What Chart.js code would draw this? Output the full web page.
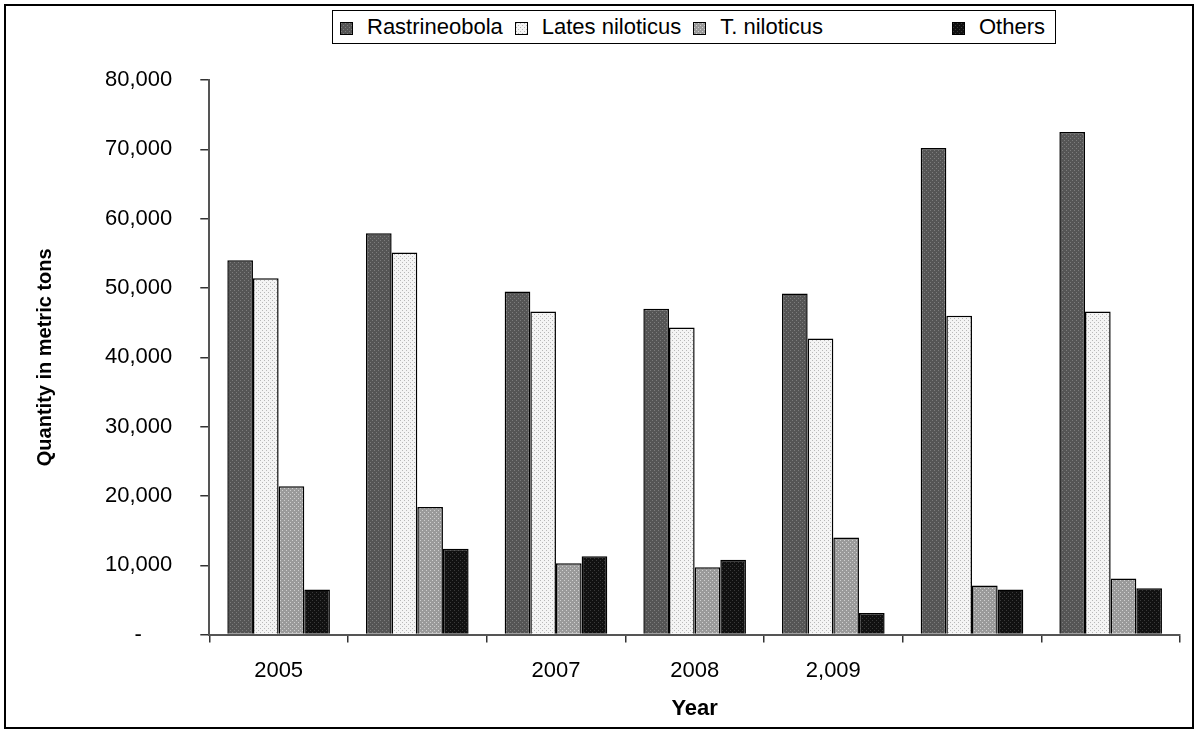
<!DOCTYPE html>
<html>
<head>
<meta charset="utf-8">
<script src="https://cdn.jsdelivr.net/npm/chart.js@4.4.0/dist/chart.umd.min.js"></script>
<style>
  body { margin: 0; background: #fff; }
  #wrap { position: relative; width: 1198px; height: 733px; }
  #frame { position: absolute; left: 4px; top: 4px; width: 1190px; height: 725px; border: 2px solid #000; box-sizing: border-box; pointer-events: none; }
  #legend { position: absolute; left: 332px; top: 10px; width: 724px; height: 34px; border: 1px solid #000; box-sizing: border-box;
            display: flex; align-items: center; justify-content: flex-start; padding: 0 10px 0 7px;
            font: 22px 'Liberation Sans', Arial, sans-serif; color: #000; white-space: nowrap; background: #fff; }
  #legend .item { margin-right: 12px; }
  #legend .item:last-child { margin-left: auto; margin-right: 0; }
  #legend .sw { display: inline-block; width: 11px; height: 11px; border: 1px solid #000; margin-right: 14px; vertical-align: -1px; }
</style>
</head>
<body>
<div id="wrap">
  <canvas id="c" width="1198" height="733"></canvas>
  <div id="legend"></div>
  <div id="frame"></div>
</div>
<script>
// data
const years = ['2005', '', '2007', '2008', '2,009', '', ''];
const rastrineobola = [54000, 57900, 49500, 47000, 49200, 70200, 72500];
const latesNiloticus = [51400, 55100, 46600, 44300, 42700, 46000, 46600];
const tNiloticus = [21400, 18400, 10300, 9700, 14000, 7100, 8100];
const others = [6500, 12400, 11300, 10800, 3100, 6500, 6700];
const yTickLabels = ['-     ', '10,000', '20,000', '30,000', '40,000', '50,000', '60,000', '70,000', '80,000'];

const FONT = "'Liberation Sans', Arial, sans-serif";

// small dotted tiles, like the old excel fill patterns
function makeTile(base, dot) {
    const t = document.createElement('canvas');
    t.width = 4; t.height = 4;
    const g = t.getContext('2d');
    g.fillStyle = base;
    g.fillRect(0, 0, 4, 4);
    g.fillStyle = dot;
    g.fillRect(0, 0, 1, 1);
    g.fillRect(2, 2, 1, 1);
    return t;
}

const ctx = document.getElementById('c').getContext('2d');
const tiles = [
    makeTile('#555555', '#7c7c7c'),
    makeTile('#f4f4f4', '#b8b8b8'),
    makeTile('#9a9a9a', '#cfcfcf'),
    makeTile('#111111', '#3a3a3a')
];
const fills = tiles.map(t => ctx.createPattern(t, 'repeat'));

const seriesNames = ['Rastrineobola', 'Lates niloticus', 'T. niloticus', 'Others'];
const seriesValues = [rastrineobola, latesNiloticus, tNiloticus, others];

// html legend with a border box, centred over the plot like the original
const legendEl = document.getElementById('legend');
seriesNames.forEach((name, i) => {
    const item = document.createElement('span');
    item.className = 'item';
    const sw = document.createElement('span');
    sw.className = 'sw';
    sw.style.backgroundImage = 'url(' + tiles[i].toDataURL() + ')';
    item.appendChild(sw);
    item.appendChild(document.createTextNode(name));
    legendEl.appendChild(item);
});

new Chart(ctx, {
    type: 'bar',
    data: {
        labels: years,
        datasets: seriesNames.map((name, i) => ({
            label: name,
            data: seriesValues[i],
            backgroundColor: fills[i],
            borderColor: '#000',
            borderWidth: 1.5,
            categoryPercentage: 0.74,
            barPercentage: 1.0
        }))
    },
    options: {
        responsive: false,
        animation: false,
        layout: { padding: { left: 20, right: 18, top: 80, bottom: 11 } },
        plugins: {
            legend: { display: false },
            tooltip: { enabled: false }
        },
        scales: {
            x: {
                grid: { display: true, drawOnChartArea: false, drawTicks: true, tickLength: 8, color: '#333', lineWidth: 1.5, offset: true },
                border: { display: true, color: '#555', width: 2 },
                ticks: { font: { family: FONT, size: 22, lineHeight: 1.0 }, color: '#000', padding: 17, maxRotation: 0, autoSkip: false },
                title: { display: true, text: 'Year', color: '#000', font: { family: FONT, size: 22, weight: 'bold' }, padding: { top: -3, bottom: 0 } }
            },
            y: {
                min: 0,
                max: 80000,
                grid: { display: true, drawOnChartArea: false, drawTicks: true, tickLength: 9, color: '#333', lineWidth: 1.5 },
                border: { display: true, color: '#555', width: 2 },
                ticks: {
                    stepSize: 10000,
                    font: { family: FONT, size: 22 },
                    color: '#000',
                    padding: 28,
                    callback: (v) => yTickLabels[Math.round(v / 10000)]
                },
                title: { display: true, text: 'Quantity in metric tons', color: '#000', font: { family: FONT, size: 20, weight: 'bold' }, padding: { top: 13, bottom: 20 } }
            }
        }
    }
});
</script>
</body>
</html>
